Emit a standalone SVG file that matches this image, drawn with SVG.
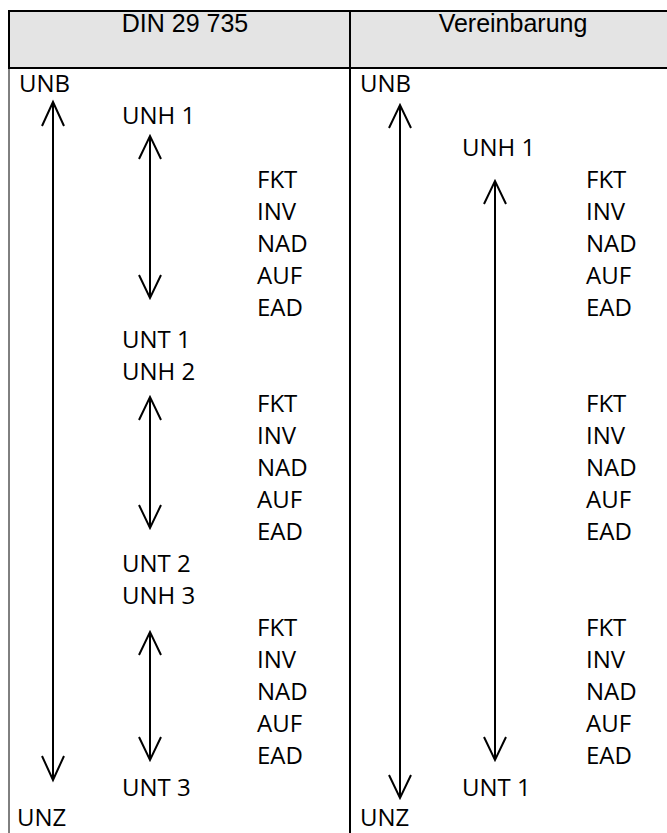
<svg xmlns="http://www.w3.org/2000/svg" width="667" height="833" viewBox="0 0 667 833">
<style>
.t{font-family:"Open Sans","DejaVu Sans",sans-serif;font-size:24px;fill:#000}
.h{font-family:"Liberation Sans",Arial,sans-serif;font-size:25px;fill:#000;text-anchor:middle}
.ln{stroke:#000;fill:none}
.ar{stroke:#000;stroke-width:2;fill:none;stroke-linejoin:miter}
</style>
<g id="table">
<rect x="9" y="11" width="660" height="57" fill="#e4e4e4"/>
<line class="ln" x1="8" y1="11" x2="667" y2="11" stroke-width="2"/>
<line class="ln" x1="8" y1="68" x2="667" y2="68" stroke-width="2"/>
<line class="ln" x1="9" y1="10" x2="9" y2="69" stroke-width="2"/>
<line class="ln" x1="9" y1="69" x2="9" y2="833" stroke-width="1"/>
<line class="ln" x1="350" y1="10" x2="350" y2="833" stroke-width="2"/>
<text class="h" x="185" y="32">DIN 29 735</text>
<text class="h" x="513" y="32">Vereinbarung</text>
</g>
<g id="left-column">
<text class="t" x="19" y="92">UNB</text>
<text class="t" x="122" y="124">UNH 1</text>
<text class="t" x="257" y="188">FKT</text>
<text class="t" x="257" y="220">INV</text>
<text class="t" x="257" y="252">NAD</text>
<text class="t" x="257" y="284">AUF</text>
<text class="t" x="257" y="316">EAD</text>
<text class="t" x="122" y="348">UNT 1</text>
<text class="t" x="122" y="380">UNH 2</text>
<text class="t" x="257" y="412">FKT</text>
<text class="t" x="257" y="444">INV</text>
<text class="t" x="257" y="476">NAD</text>
<text class="t" x="257" y="508">AUF</text>
<text class="t" x="257" y="540">EAD</text>
<text class="t" x="122" y="572">UNT 2</text>
<text class="t" x="122" y="604">UNH 3</text>
<text class="t" x="257" y="636">FKT</text>
<text class="t" x="257" y="668">INV</text>
<text class="t" x="257" y="700">NAD</text>
<text class="t" x="257" y="732">AUF</text>
<text class="t" x="257" y="764">EAD</text>
<text class="t" x="122" y="796">UNT 3</text>
<text class="t" x="17" y="826">UNZ</text>
</g>
<g id="right-column">
<text class="t" x="360" y="92">UNB</text>
<text class="t" x="462" y="156">UNH 1</text>
<text class="t" x="586" y="188">FKT</text>
<text class="t" x="586" y="220">INV</text>
<text class="t" x="586" y="252">NAD</text>
<text class="t" x="586" y="284">AUF</text>
<text class="t" x="586" y="316">EAD</text>
<text class="t" x="586" y="412">FKT</text>
<text class="t" x="586" y="444">INV</text>
<text class="t" x="586" y="476">NAD</text>
<text class="t" x="586" y="508">AUF</text>
<text class="t" x="586" y="540">EAD</text>
<text class="t" x="586" y="636">FKT</text>
<text class="t" x="586" y="668">INV</text>
<text class="t" x="586" y="700">NAD</text>
<text class="t" x="586" y="732">AUF</text>
<text class="t" x="586" y="764">EAD</text>
<text class="t" x="462" y="796">UNT 1</text>
<text class="t" x="360" y="826">UNZ</text>
</g>
<g id="connectors">
<path class="ar" d="M53 102V780M42 126L53 102L64 126M42 756L53 780L64 756"/>
<path class="ar" d="M150 136V298M139 159L150 136L161 159M139 275L150 298L161 275"/>
<path class="ar" d="M150 397V528M139 420L150 397L161 420M139 505L150 528L161 505"/>
<path class="ar" d="M150 632V760M139 655L150 632L161 655M139 737L150 760L161 737"/>
<path class="ar" d="M400 105V798M389 128L400 105L411 128M389 775L400 798L411 775"/>
<path class="ar" d="M495 181V760M484 204L495 181L506 204M484 737L495 760L506 737"/>
</g>
</svg>
